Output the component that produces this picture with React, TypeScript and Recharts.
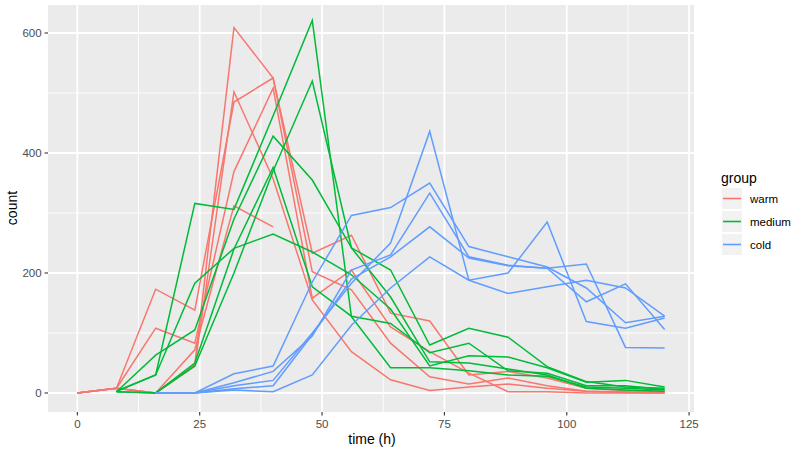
import React from 'react';
import { LineChart, Line, XAxis, YAxis, CartesianGrid } from 'recharts';

// sampling times (h)
const times = [0, 8, 16, 24, 32, 40, 48, 56, 64, 72, 80, 88, 96, 104, 112, 120];

// warm replicates
const warm1 = [0, 8, 0, 47, 609, 525, 233, 263, 133, 120, 30, 36, 25, 8, 4, 2];
const warm2 = [0, 8, 0, 45, 502, 357, 155, 69, 22, 4, 10, 15, 8, 3, 1, 0];
const warm3 = [0, 8, 173, 138, 485, 525, 202, 172, 83, 27, 15, 25, 12, 3, 2, 1];
const warm4 = [0, 8, 108, 83, 369, 508, 158, 205, 110, 69, 33, 2, 2, 0, 0, 0];
const warm5 = [0, 8, 0, 72, 312, 277, null, null, null, null, null, null, null, null, null, null];

// medium replicates
const medium1 = [null, 3, 30, 316, 306, 462, 621, 127, 42, 42, 37, 30, 28, 10, 8, 5];
const medium2 = [null, 3, 30, 183, 241, 265, 235, 197, 140, 45, 62, 60, 42, 18, 21, 10];
const medium3 = [null, 2, 63, 105, 290, 428, 355, 242, 205, 80, 108, 93, 44, 19, 10, 8];
const medium4 = [null, 2, 0, 50, 240, 376, 177, 128, 116, 67, 83, 37, 33, 12, 12, 6];
const medium5 = [null, 2, 0, 45, 200, 370, 520, 242, 160, 52, 50, 40, 30, 8, 5, 3];

// cold replicates
const cold1 = [null, null, 0, 0, 32, 45, 185, 296, 309, 350, 244, 227, 210, 175, 117, 128];
const cold2 = [null, null, 0, 0, 12, 21, 100, 183, 250, 436, 188, 200, 285, 119, 108, 125];
const cold3 = [null, null, 0, 0, 17, 36, 95, 205, 230, 333, 227, 213, 208, 215, 76, 75];
const cold4 = [null, null, 0, 0, 7, 12, 97, 190, 227, 277, 225, 212, 208, 152, 182, 106];
const cold5 = [null, null, 0, 0, 5, 2, 30, 113, 175, 227, 188, 166, 177, 188, 175, 128];

const groups = ['warm', 'medium', 'cold'];
const groupColors: Record<string, string> = { warm: '#F8766D', medium: '#00BA38', cold: '#619CFF' };

const xTicks = [0, 25, 50, 75, 100, 125];
const yTicks = [0, 200, 400, 600];
const xMinor = [12.5, 37.5, 62.5, 87.5, 112.5];
const yMinor = [100, 300, 500];

const series = [
  { key: 'warm1', group: 'warm', values: warm1 },
  { key: 'warm2', group: 'warm', values: warm2 },
  { key: 'warm3', group: 'warm', values: warm3 },
  { key: 'warm4', group: 'warm', values: warm4 },
  { key: 'warm5', group: 'warm', values: warm5 },
  { key: 'medium1', group: 'medium', values: medium1 },
  { key: 'medium2', group: 'medium', values: medium2 },
  { key: 'medium3', group: 'medium', values: medium3 },
  { key: 'medium4', group: 'medium', values: medium4 },
  { key: 'medium5', group: 'medium', values: medium5 },
  { key: 'cold1', group: 'cold', values: cold1 },
  { key: 'cold2', group: 'cold', values: cold2 },
  { key: 'cold3', group: 'cold', values: cold3 },
  { key: 'cold4', group: 'cold', values: cold4 },
  { key: 'cold5', group: 'cold', values: cold5 },
];

const data = times.map((t, i) => {
  const row: any = { time: t };
  series.forEach((s) => {
    row[s.key] = s.values[i];
  });
  return row;
});

const FONT = '"Liberation Sans", Arial, Helvetica, sans-serif';

export default function App() {
  return (
    <div style={{ position: 'absolute', left: 0, top: 0, width: 800, height: 452, background: '#fff', fontFamily: FONT }}>
      <LineChart width={800} height={452} data={data} margin={{ top: 5, right: 106, bottom: 0, left: 0 }}>
        <CartesianGrid
          fill="#EBEBEB"
          stroke="#FFFFFF"
          strokeWidth={0.9}
          horizontalValues={yMinor}
          verticalValues={xMinor}
        />
        <CartesianGrid
          stroke="#FFFFFF"
          strokeWidth={1.8}
          horizontalValues={yTicks}
          verticalValues={xTicks}
        />
        <XAxis
          dataKey="time"
          type="number"
          domain={[-6, 126]}
          ticks={xTicks}
          allowDataOverflow
          axisLine={false}
          tickLine={{ stroke: '#333333', strokeWidth: 1.1 }}
          tickSize={3.4}
          tickMargin={4}
          height={40}
          tick={{ fill: '#4D4D4D', fontSize: 11.5, fontFamily: FONT }}
        />
        <YAxis
          type="number"
          domain={[-31.7, 646.7]}
          ticks={yTicks}
          allowDataOverflow
          axisLine={false}
          tickLine={{ stroke: '#333333', strokeWidth: 1.1 }}
          tickSize={3.4}
          tickMargin={3}
          width={48}
          tick={{ fill: '#4D4D4D', fontSize: 11.5, fontFamily: FONT }}
        />
        {series.map((s) => (
          <Line
            key={s.key}
            dataKey={s.key}
            type="linear"
            stroke={groupColors[s.group]}
            strokeWidth={1.5}
            dot={false}
            activeDot={false}
            connectNulls={false}
            isAnimationActive={false}
          />
        ))}
      </LineChart>

      {/* axis titles */}
      <div style={{ position: 'absolute', left: 322, top: 431, width: 100, textAlign: 'center', fontSize: 14, color: '#000' }}>
        time (h)
      </div>
      <div
        style={{
          position: 'absolute',
          left: -38,
          top: 200,
          width: 100,
          textAlign: 'center',
          fontSize: 14,
          color: '#000',
          transform: 'rotate(-90deg)',
        }}
      >
        count
      </div>

      {/* legend */}
      <div style={{ position: 'absolute', left: 721, top: 169 }}>
        <div style={{ fontSize: 14, color: '#000', height: 18, lineHeight: '18px' }}>group</div>
        {groups.map((g) => (
          <div key={g} style={{ display: 'flex', alignItems: 'center', height: 23 }}>
            <svg width={22} height={23} style={{ display: 'block' }}>
              <rect x={0.5} y={0.5} width={21} height={22} fill="#F2F2F2" stroke="#FFFFFF" strokeWidth={1} />
              <line x1={2} x2={20} y1={11.5} y2={11.5} stroke={groupColors[g]} strokeWidth={1.6} />
            </svg>
            <div style={{ marginLeft: 7, fontSize: 11.5, color: '#000' }}>{g}</div>
          </div>
        ))}
      </div>
    </div>
  );
}
